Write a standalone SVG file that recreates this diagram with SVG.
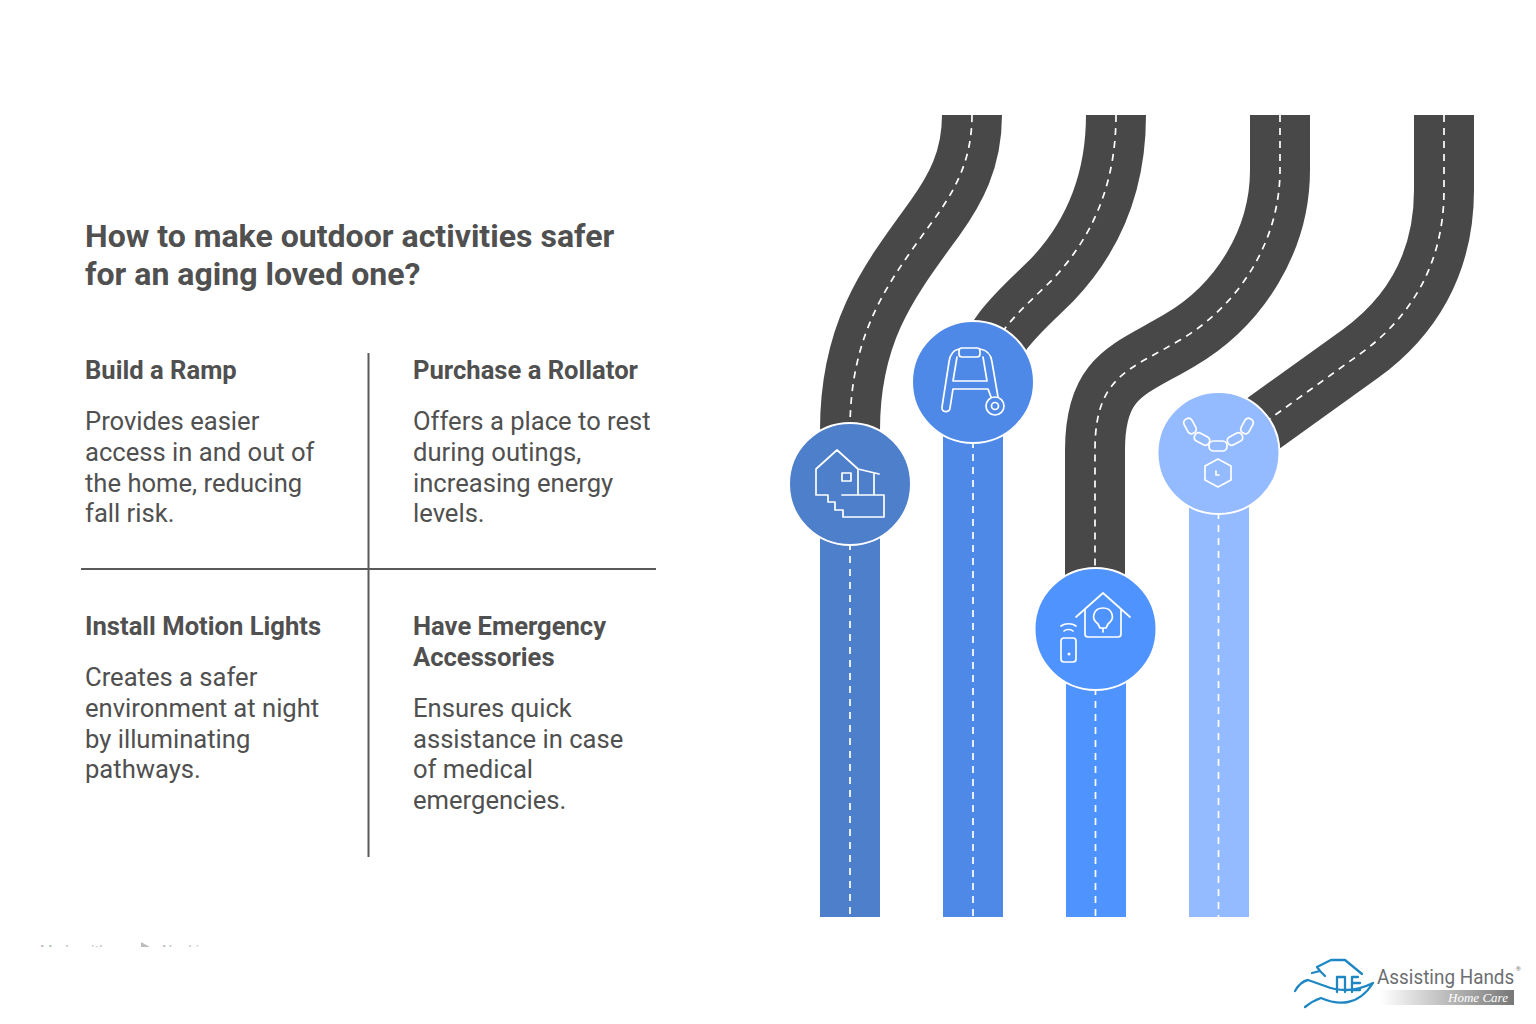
<svg xmlns="http://www.w3.org/2000/svg" width="1536" height="1024" viewBox="0 0 1536 1024">
<style>
text{font-family:Roboto,"Liberation Sans",sans-serif;fill:#505050}
.t{font-size:32.060px;font-weight:700}
.h{font-size:25.600px;font-weight:700}
.b{font-size:25.600px;font-weight:400}
.road{fill:none;stroke:#484848;stroke-width:60}
.dash{fill:none;stroke:#fff;stroke-width:1.700;stroke-dasharray:7 6}
.ic{fill:none;stroke:#fff;stroke-width:1.700;stroke-linejoin:round;stroke-linecap:round}
.rule{stroke:#5a5a5a;stroke-width:2}
.lg{fill:none;stroke:#1e87c3;stroke-width:2.300;stroke-linejoin:round;stroke-linecap:round}
</style>
<defs>
<linearGradient id="g" x1="0" x2="1" y1="0" y2="0"><stop offset="0" stop-color="#fff"/><stop offset="1" stop-color="#777"/></linearGradient>
<clipPath id="wm"><rect x="30" y="930" width="200" height="17"/></clipPath>
</defs>
<rect width="1536" height="1024" fill="#fff"/>
<g id="title"><text class="t" x="85" y="247">How to make outdoor activities safer</text><text class="t" x="85" y="284.500">for an aging loved one?</text></g>
<g id="grid"><line class="rule" x1="368.500" y1="353" x2="368.500" y2="857"/><line class="rule" x1="81" y1="569" x2="656" y2="569"/></g>
<g id="text-ramp"><text class="h" x="85" y="379">Build a Ramp</text><text class="b" x="85" y="430">Provides easier</text><text class="b" x="85" y="461">access in and out of</text><text class="b" x="85" y="491.500">the home, reducing</text><text class="b" x="85" y="522">fall risk.</text></g>
<g id="text-rollator"><text class="h" x="413" y="379">Purchase a Rollator</text><text class="b" x="413" y="430">Offers a place to rest</text><text class="b" x="413" y="461">during outings,</text><text class="b" x="413" y="491.500">increasing energy</text><text class="b" x="413" y="522">levels.</text></g>
<g id="text-lights"><text class="h" x="85" y="635">Install Motion Lights</text><text class="b" x="85" y="686">Creates a safer</text><text class="b" x="85" y="717">environment at night</text><text class="b" x="85" y="747.500">by illuminating</text><text class="b" x="85" y="778">pathways.</text></g>
<g id="text-emergency"><text class="h" x="413" y="635">Have Emergency</text><text class="h" x="413" y="666">Accessories</text><text class="b" x="413" y="717">Ensures quick</text><text class="b" x="413" y="747.500">assistance in case</text><text class="b" x="413" y="778">of medical</text><text class="b" x="413" y="809">emergencies.</text></g>
<g id="connectors">
<path class="road" d="M972 115C972 160 955 190 935 218C890 280 850 330 850 430"/>
<path class="road" d="M1116 115C1116 180 1095 235 1052 280C1024 308 994 330 977 380"/>
<path class="road" d="M1280 115V170C1280 240 1240 305 1180 340C1130 370 1095 375 1095 450V630"/>
<path class="road" d="M1444 115V190C1444 265 1410 318 1360 354L1218 456"/>
<path class="dash" d="M972 115C972 160 955 190 935 218C890 280 850 330 850 430"/>
<path class="dash" d="M1116 115C1116 180 1095 235 1052 280C1024 308 994 330 977 380"/>
<path class="dash" d="M1280 115V170C1280 240 1240 305 1180 340C1130 370 1095 375 1095 450V630"/>
<path class="dash" d="M1444 115V190C1444 265 1410 318 1360 354L1218 456"/>
<rect x="820" y="484" width="60" height="433" fill="#4e7fcb"/><path class="dash" d="M850 543V917"/>
<rect x="943" y="382" width="60" height="535" fill="#4f89e8"/><path class="dash" d="M973 441V917"/>
<rect x="1066" y="630" width="60" height="287" fill="#4f93ff"/><path class="dash" d="M1095.500 688V917"/>
<rect x="1189" y="453" width="60" height="464" fill="#94bbff"/><path class="dash" d="M1218.500 512V917"/>
</g>
<g id="node-ramp"><circle cx="850" cy="484" r="61" fill="#4e7fcb" stroke="#fff" stroke-width="2"/>
<path class="ic" d="M816 495V469L837 450L858 469L879 474M858 469V495M874 474V495M842 495H884V517H843V510H835V502H828V495H816M842 473h9v8h-9z"/></g>
<g id="node-rollator"><circle cx="973" cy="382" r="61" fill="#4f89e8" stroke="#fff" stroke-width="2"/>
<path class="ic" d="M962 348h15a3 3 0 0 1 3 3v3a3 3 0 0 1-3 3h-15a3 3 0 0 1-3-3v-3a3 3 0 0 1 3-3zM959 349C953 350 950 354 949 362L942 407C941 413 950 413 950 408L953 389H988L991 397M980 349C987 350 991 354 992 362L998 397M957 357L953 381H987L983 357"/><circle class="ic" cx="995" cy="406" r="9"/><circle class="ic" cx="995" cy="406" r="3.500"/></g>
<g id="node-lights"><circle cx="1095.500" cy="629" r="61" fill="#4f93ff" stroke="#fff" stroke-width="2"/>
<path class="ic" d="M1076 617L1103 593L1130 617M1085 609V634a3 3 0 0 0 3 3H1118a3 3 0 0 0 3-3V609M1100 628L1098 624C1090 618 1094 608 1103 608C1112 608 1116 618 1108 624L1106 628ZM1103 628V632"/><rect class="ic" x="1061" y="638" width="15" height="24" rx="3"/><circle cx="1069" cy="654" r="1.500" fill="#fff"/><path class="ic" d="M1061 626C1065 623 1072 623 1076 626M1064 631C1066 629 1071 629 1073 631"/></g>
<g id="node-accessories"><circle cx="1218.500" cy="453" r="61" fill="#94bbff" stroke="#fff" stroke-width="2"/>
<g class="ic"><rect x="-4.500" y="-8" width="9" height="16" rx="4" transform="translate(1190 426) rotate(-28)"/><rect x="-8" y="-4.500" width="16" height="9" rx="4" transform="translate(1202 439) rotate(28)"/><rect x="1209" y="441" width="18" height="10" rx="4.500"/><rect x="-8" y="-4.500" width="16" height="9" rx="4" transform="translate(1235 439) rotate(-28)"/><rect x="-4.500" y="-8" width="9" height="16" rx="4" transform="translate(1247 426) rotate(28)"/></g>
<path class="ic" d="M1218 459L1231 466V480L1218 487L1205 480V466ZM1216 471L1216 475H1219"/></g>
<g id="logo">
<path class="lg" d="M1295 991C1299 984 1303 981 1308 980L1325 986C1332 989 1338 990 1346 990M1346 990C1356 990 1365 987 1373 983C1366 994 1358 1000 1348 1002C1338 1004 1330 1002 1321 998C1315 1000 1310 1003 1305 1007"/>
<path class="lg" d="M1312 973L1320 971L1317 967L1331 960H1345L1362 974M1320 971L1325 976"/>
<path class="lg" d="M1337 992V977H1345V992M1352 992V977M1352 977H1358M1352 983H1360M1352 990H1360" stroke-width="1.600"/>
<text transform="translate(1377 984) scale(.9 1)" style="font-size:21px;fill:#6d6e71">Assisting Hands</text>
<text x="1516" y="971" style="font-size:6px;fill:#6d6e71">®</text>
<rect x="1380" y="990" width="134" height="15" fill="url(#g)"/>
<text x="1448" y="1002" style="font-family:'Liberation Serif',serif;font-style:italic;font-size:13.500px;fill:#fff" textLength="60" lengthAdjust="spacingAndGlyphs">Home Care</text>
</g>
<g id="watermark" clip-path="url(#wm)"><text x="40" y="956" style="font-size:14.500px;fill:#bdbdbd">Made with</text><polygon points="141,942 150,947 141,947" fill="#bdbdbd"/><text x="162" y="956" style="font-size:14.500px;fill:#bdbdbd">Napkin</text></g>
</svg>
